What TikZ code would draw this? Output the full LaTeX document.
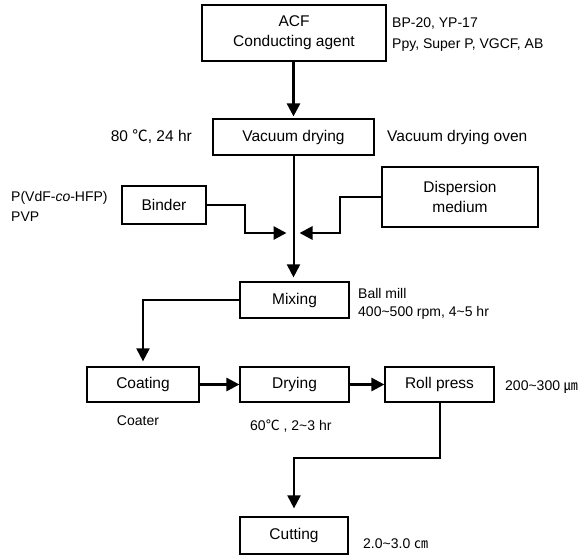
\documentclass[tikz,border=0pt]{standalone}
\usepackage{fontspec}
\setmainfont{Liberation Sans}
\newfontfamily\cjk{Noto Sans CJK KR}
\usetikzlibrary{arrows.meta}
\begin{document}
\begin{tikzpicture}[x=1pt,y=-1pt,
  box/.style={draw, line width=1.2pt, inner sep=0pt, align=center,
    font=\fontsize{15.5}{20}\selectfont},
  lab/.style={inner sep=0pt, font=\fontsize{14}{18}\selectfont},
  biglab/.style={inner sep=0pt, font=\fontsize{15.5}{18}\selectfont},
  arr/.style={-{Triangle[length=13pt,width=13pt]}},
  thickline/.style={line width=2.8pt},
  midline/.style={line width=2pt},
]
\useasboundingbox (0,0) rectangle (578,555);
\fill[white] (0,0) rectangle (578,555);

% boxes
\node[box, minimum width=184pt, minimum height=56pt] (acf) at (294,33) {ACF\\Conducting agent};
\node[box, minimum width=161pt, minimum height=36pt] (vac) at (293.5,137) {Vacuum drying};
\node[box, minimum width=84pt, minimum height=38pt] (binder) at (164,205) {Binder};
\node[box, minimum width=156pt, minimum height=60pt] (disp) at (460,197) {Dispersion\\medium};
\node[box, minimum width=109pt, minimum height=36pt] (mix) at (294.5,300) {Mixing};
\node[box, minimum width=112pt, minimum height=35pt] (coat) at (143,384.5) {Coating};
\node[box, minimum width=109pt, minimum height=35pt] (dry) at (294.5,384.5) {Drying};
\node[box, minimum width=109pt, minimum height=35pt] (roll) at (439.5,384.5) {Roll press};
\node[box, minimum width=108pt, minimum height=37pt] (cut) at (294,535.5) {Cutting};

% labels
\node[lab, anchor=base west] (l1) at (392,27) {BP-20, YP-17};
\node[lab, anchor=base west] (l2) at (392,48) {Ppy, Super P, VGCF, AB};
\node[biglab, anchor=base east] (l3) at (192,141.5) {80 {\cjk ℃}, 24 hr};
\node[biglab, anchor=base west] (l4) at (387,141.5) {Vacuum drying oven};
\node[lab, anchor=base west] (l5) at (11,201) {P(VdF-\textit{co}-HFP)};
\node[lab, anchor=base west] (l6) at (11,221) {PVP};
\node[lab, anchor=base west] (l7) at (358,298) {Ball mill};
\node[lab, anchor=base west] (l8) at (358,316) {400\textasciitilde500 rpm, 4\textasciitilde5 hr};
\node[lab, anchor=base] (l9) at (138,425) {Coater};
\node[lab, anchor=base west] (l10) at (250,430) {60{\cjk ℃} , 2\textasciitilde3 hr};
\node[lab, anchor=base west] (l11) at (505,390) {200\textasciitilde300 {\cjk ㎛}};
\node[lab, anchor=base west] (l12) at (363,548) {2.0\textasciitilde3.0 {\cjk ㎝}};

% junction coordinates
\coordinate (mL) at (293.5,233);
\coordinate (bj) at (245,233);
\coordinate (dj) at (340,233);
\coordinate (rc) at (439.5,458);

% connectors
\draw[arr, thickline, shorten >=2pt] (vac.north |- acf.south) -- (vac.north);
\draw[arr, midline, shorten >=4pt] (vac.south) -- (vac.south |- mix.north);
\draw[arr, thickline, shorten >=7pt] (binder.east) -| (bj) -- (mL);
\draw[arr, thickline, shorten >=6pt] (disp.west) -| (dj) -- (mL);
\draw[arr, midline, shorten >=5pt] (mix.west) -| (coat.north);
\draw[arr, thickline] (coat.east) -- (dry.west);
\draw[arr, thickline] (dry.east) -- (roll.west);
\draw[arr, midline, shorten >=8pt] (roll.south) -- (rc) -| (cut.north);
\end{tikzpicture}
\end{document}
